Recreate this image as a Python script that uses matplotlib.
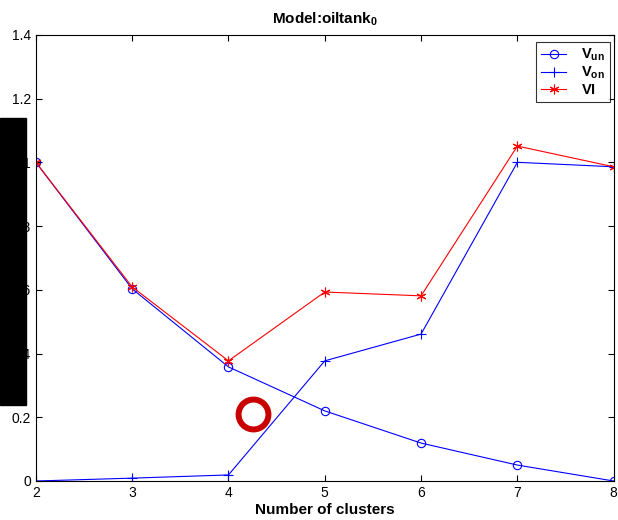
import matplotlib
matplotlib.use("Agg")
import matplotlib.pyplot as plt
from matplotlib.patches import Rectangle

plt.rcParams["font.family"] = ["Liberation Sans", "DejaVu Sans"]
plt.rcParams["mathtext.fontset"] = "custom"
plt.rcParams["mathtext.rm"] = "Liberation Sans:bold"
plt.rcParams["mathtext.bf"] = "Liberation Sans:bold"
plt.rcParams["mathtext.it"] = "Liberation Sans:bold"

clusters = [2, 3, 4, 5, 6, 7, 8]
v_un = [1.0, 0.603, 0.358, 0.220, 0.119, 0.050, 0.0]
v_on = [0.0, 0.009, 0.019, 0.377, 0.461, 1.0, 0.986]
vi = [1.0, 0.609, 0.377, 0.593, 0.581, 1.051, 0.986]
yticks = [0, 0.2, 0.4, 0.6, 0.8, 1.0, 1.2, 1.4]
ytick_labels = ["0", "0.2", "0.4", "0.6", "0.8", "1", "1.2", "1.4"]


def main():
    fig = plt.figure(figsize=(6.18, 5.2), dpi=100)
    ax = fig.add_axes([0.058, 0.075, 0.935, 0.858])

    ax.plot(clusters, v_un, "o-", color="#0000ff", lw=0.8, ms=6,
            mfc="none", mew=0.8, label=r"$\mathbf{V_{un}}$")
    ax.plot(clusters, v_on, "+-", color="#0000ff", lw=0.8, ms=7,
            mew=0.8, label=r"$\mathbf{V_{on}}$")
    ax.plot(clusters, vi, "-", color="#ff0000", lw=0.8, ms=7,
            marker=(6, 2, 0), mew=0.8, label=r"$\mathbf{VI}$")

    ax.set_xlim(2, 8)
    ax.set_ylim(0, 1.4)
    ax.set_xticks(clusters)
    ax.set_yticks(yticks)
    ax.set_yticklabels(ytick_labels)
    ax.tick_params(direction="in", top=True, right=True, labelsize=10,
                   length=4, width=0.8)
    for s in ax.spines.values():
        s.set_linewidth(0.8)

    ax.set_xlabel("Number of clusters", fontsize=11, fontweight="bold",
                  labelpad=2)
    ax.set_title(r"Model:oiltank$_0$", fontsize=11, fontweight="bold",
                 pad=8)

    leg = ax.legend(loc="upper right", bbox_to_anchor=(1 - 4 / 578, 1 - 7 / 446),
                    borderaxespad=0, fontsize=10.5, frameon=True,
                    fancybox=False, edgecolor="black", handlelength=1.7,
                    handletextpad=1.0, borderpad=0.35, labelspacing=0.12)
    leg.get_frame().set_linewidth(0.8)

    # red ring annotation
    ax.plot([4.25], [0.21], "o", ms=21.5, mfc="none", mec="#c80000",
            mew=4.3, clip_on=False)

    # black redaction box over y labels
    fig.add_artist(Rectangle((0.0, 1 - 405 / 520), 26 / 618, 287 / 520,
                             transform=fig.transFigure, color="black",
                             zorder=10))

    fig.savefig("out.png", dpi=100)


if __name__ == "__main__":
    main()
